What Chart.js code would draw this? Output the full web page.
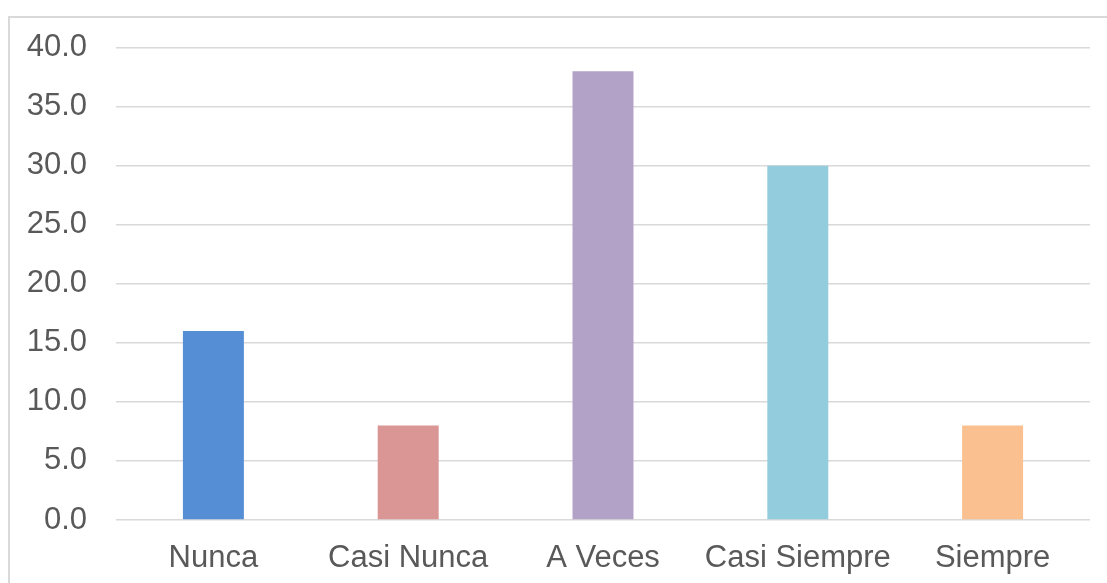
<!DOCTYPE html>
<html>
<head>
<meta charset="utf-8">
<script src="https://cdn.jsdelivr.net/npm/chart.js@4"></script>
<style>
  html, body { margin: 0; padding: 0; background: #fff; }
  #frame {
    position: absolute; left: 8px; top: 16px; width: 1120px; height: 600px;
    border-left: 2px solid #d9d9d9; border-top: 2px solid #d9d9d9;
  }
  #myChart { position: absolute; left: 0; top: 0; }
</style>
</head>
<body>
<div id="frame"></div>
<canvas id="myChart" width="1107" height="583"></canvas>
<script>
const categorias = ['Nunca', 'Casi Nunca', 'A Veces', 'Casi Siempre', 'Siempre'];
const porcentajes = [16, 8, 38, 30, 8];
const colores = ['#558ED5', '#D99694', '#B3A2C7', '#93CDDD', '#FAC090'];
const yMin = 0, yMax = 40, yPaso = 5;

Chart.defaults.font.family = '"Liberation Sans", Arial, sans-serif';
Chart.defaults.font.size = 31;
Chart.defaults.color = '#595959';

new Chart(document.getElementById('myChart'), {
  type: 'bar',
  data: {
    labels: categorias,
    datasets: [{
      data: porcentajes,
      backgroundColor: colores,
      categoryPercentage: 0.313,
      barPercentage: 1.0
    }]
  },
  options: {
    responsive: false,
    animation: false,
    layout: { padding: { top: 1, right: 17, bottom: 0, left: 0 } },
    plugins: { legend: { display: false }, tooltip: { enabled: false } },
    scales: {
      x: {
        grid: { display: false, drawTicks: false },
        border: { display: false },
        ticks: { padding: 20 },
        afterFit: (s) => { s.height = 63; }
      },
      y: {
        min: yMin, max: yMax,
        grid: { color: '#d9d9d9', lineWidth: 1.5, drawTicks: false },
        border: { display: false },
        ticks: {
          stepSize: yPaso, padding: 29,
          callback: (v) => v.toFixed(1)
        },
        afterFit: (s) => { s.width = 116; }
      }
    }
  }
});
</script>
</body>
</html>
